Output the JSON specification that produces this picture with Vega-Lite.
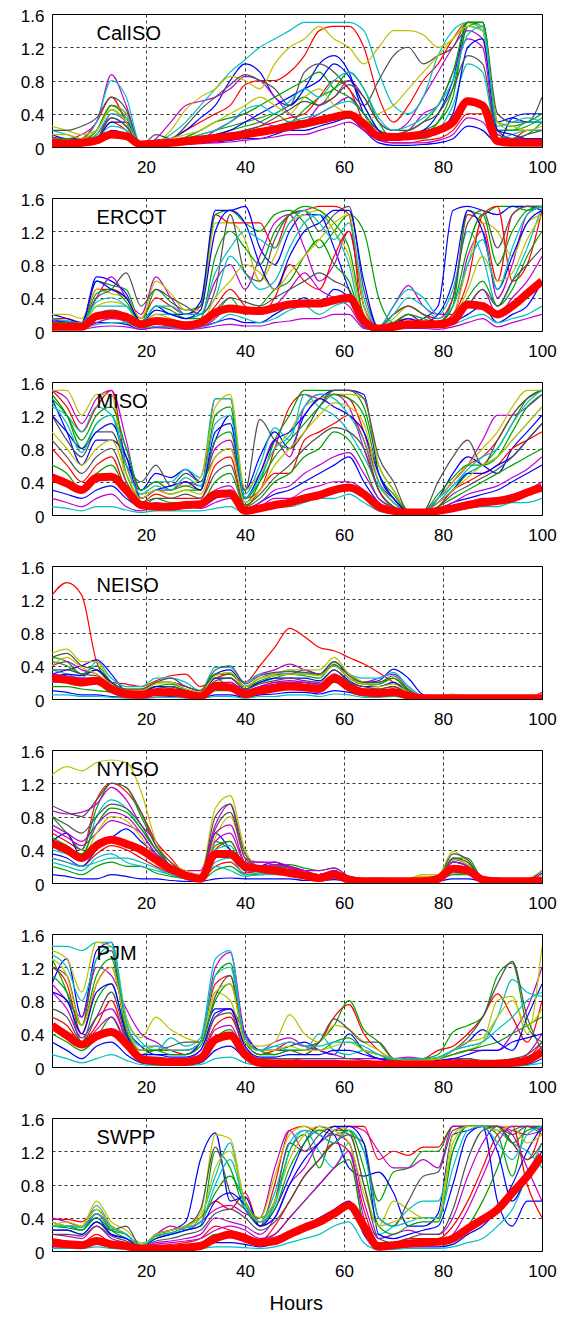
{
"$schema":"https://vega.github.io/schema/vega-lite/v6.json",
"background":"white",
"padding":{"left":19,"top":6,"right":5,"bottom":5},
"bounds":"flush",
"spacing":51,
"title":{"text":"Hours","orient":"bottom","anchor":"middle","fontSize":20,"fontWeight":"normal","color":"black","font":"Liberation Sans","offset":14,"dx":8},
"data":{"values":[
{"p":"CalISO","h":1,"a":0.1,"b":0.05,"c":0.15,"d":0.12,"e":0.2,"f":0.25,"g":0.2,"h2":0.05,"i":0.08,"j":0.03,"k":0.1,"l":0.05,"n":0.1,"o":0.05,"q":0.15,"r":0.08,"t":0.02,"u":0.1,"m":0.05},
{"p":"CalISO","h":4,"a":0.08,"b":0.05,"c":0.1,"d":0.1,"e":0.15,"f":0.2,"g":0.2,"h2":0.03,"i":0.05,"j":0.02,"k":0.08,"l":0.05,"n":0.1,"o":0.05,"q":0.15,"r":0.05,"t":0.02,"u":0.08,"m":0.04},
{"p":"CalISO","h":7,"a":0.1,"b":0.05,"c":0.1,"d":0.15,"e":0.1,"f":0.15,"g":0.25,"h2":0.05,"i":0.05,"j":0.03,"k":0.05,"l":0.05,"n":0.08,"o":0.05,"q":0.1,"r":0.05,"t":0.02,"u":0.06,"m":0.05},
{"p":"CalISO","h":10,"a":0.3,"b":0.2,"c":0.2,"d":0.3,"e":0.3,"f":0.2,"g":0.35,"h2":0.1,"i":0.15,"j":0.05,"k":0.1,"l":0.1,"n":0.2,"o":0.1,"q":0.2,"r":0.1,"t":0.05,"u":0.15,"m":0.08},
{"p":"CalISO","h":13,"a":0.6,"b":0.45,"c":0.5,"d":0.87,"e":0.8,"f":0.5,"g":0.6,"h2":0.3,"i":0.35,"j":0.2,"k":0.4,"l":0.25,"n":0.5,"o":0.3,"q":0.45,"r":0.35,"t":0.15,"u":0.4,"m":0.15},
{"p":"CalISO","h":16,"a":0.3,"b":0.3,"c":0.4,"d":0.5,"e":0.6,"f":0.4,"g":0.45,"h2":0.2,"i":0.25,"j":0.15,"k":0.3,"l":0.2,"n":0.35,"o":0.3,"q":0.3,"r":0.25,"t":0.1,"u":0.35,"m":0.13},
{"p":"CalISO","h":19,"a":0.02,"b":0.01,"c":0.02,"d":0.02,"e":0.02,"f":0.02,"g":0.02,"h2":0.01,"i":0.01,"j":0.01,"k":0.01,"l":0.01,"n":0.02,"o":0.02,"q":0.02,"r":0.01,"t":0.01,"u":0.02,"m":0.03},
{"p":"CalISO","h":22,"a":0.05,"b":0.03,"c":0.08,"d":0.1,"e":0.05,"f":0.05,"g":0.15,"h2":0.02,"i":0.03,"j":0.01,"k":0.03,"l":0.02,"n":0.05,"o":0.05,"q":0.05,"r":0.03,"t":0.01,"u":0.03,"m":0.04},
{"p":"CalISO","h":25,"a":0.1,"b":0.05,"c":0.1,"d":0.3,"e":0.15,"f":0.2,"g":0.1,"h2":0.03,"i":0.05,"j":0.02,"k":0.05,"l":0.05,"n":0.08,"o":0.05,"q":0.1,"r":0.05,"t":0.02,"u":0.05,"m":0.05},
{"p":"CalISO","h":28,"a":0.2,"b":0.08,"c":0.2,"d":0.5,"e":0.3,"f":0.45,"g":0.25,"h2":0.05,"i":0.1,"j":0.03,"k":0.1,"l":0.05,"n":0.12,"o":0.08,"q":0.15,"r":0.05,"t":0.03,"u":0.08,"m":0.07},
{"p":"CalISO","h":31,"a":0.3,"b":0.1,"c":0.35,"d":0.55,"e":0.5,"f":0.6,"g":0.45,"h2":0.08,"i":0.15,"j":0.05,"k":0.1,"l":0.08,"n":0.2,"o":0.1,"q":0.2,"r":0.1,"t":0.04,"u":0.15,"m":0.09},
{"p":"CalISO","h":34,"a":0.4,"b":0.15,"c":0.5,"d":0.6,"e":0.7,"f":0.7,"g":0.6,"h2":0.1,"i":0.2,"j":0.06,"k":0.2,"l":0.1,"n":0.3,"o":0.15,"q":0.3,"r":0.12,"t":0.05,"u":0.2,"m":0.11},
{"p":"CalISO","h":37,"a":0.5,"b":0.2,"c":0.8,"d":0.7,"e":0.9,"f":0.85,"g":0.75,"h2":0.15,"i":0.25,"j":0.08,"k":0.3,"l":0.15,"n":0.35,"o":0.2,"q":0.4,"r":0.15,"t":0.06,"u":0.3,"m":0.13},
{"p":"CalISO","h":40,"a":0.75,"b":0.25,"c":1.0,"d":0.85,"e":1.05,"f":0.8,"g":0.87,"h2":0.2,"i":0.3,"j":0.1,"k":0.4,"l":0.2,"n":0.4,"o":0.3,"q":0.5,"r":0.2,"t":0.08,"u":0.45,"m":0.15},
{"p":"CalISO","h":43,"a":0.8,"b":0.3,"c":0.9,"d":0.8,"e":1.2,"f":0.7,"g":0.8,"h2":0.25,"i":0.35,"j":0.1,"k":0.3,"l":0.2,"n":0.5,"o":0.4,"q":0.6,"r":0.25,"t":0.1,"u":0.5,"m":0.18},
{"p":"CalISO","h":46,"a":0.8,"b":0.4,"c":0.6,"d":0.6,"e":1.3,"f":1.0,"g":0.7,"h2":0.3,"i":0.4,"j":0.15,"k":0.25,"l":0.25,"n":0.6,"o":0.5,"q":0.5,"r":0.35,"t":0.12,"u":0.4,"m":0.21},
{"p":"CalISO","h":49,"a":0.9,"b":0.5,"c":0.5,"d":0.4,"e":1.4,"f":1.2,"g":0.5,"h2":0.35,"i":0.3,"j":0.2,"k":0.2,"l":0.3,"n":0.7,"o":0.6,"q":0.4,"r":0.45,"t":0.15,"u":0.55,"m":0.25},
{"p":"CalISO","h":52,"a":1.1,"b":0.6,"c":0.7,"d":0.3,"e":1.5,"f":1.3,"g":0.9,"h2":0.4,"i":0.45,"j":0.2,"k":0.3,"l":0.35,"n":0.8,"o":0.7,"q":0.6,"r":0.55,"t":0.15,"u":0.7,"m":0.28},
{"p":"CalISO","h":55,"a":1.4,"b":0.5,"c":1.0,"d":0.5,"e":1.5,"f":1.45,"g":1.0,"h2":0.6,"i":0.6,"j":0.25,"k":0.4,"l":0.4,"n":0.9,"o":0.8,"q":0.7,"r":0.5,"t":0.2,"u":0.6,"m":0.32},
{"p":"CalISO","h":58,"a":1.45,"b":0.7,"c":1.1,"d":0.6,"e":1.5,"f":1.3,"g":0.9,"h2":0.8,"i":0.7,"j":0.3,"k":0.5,"l":0.5,"n":0.7,"o":1.0,"q":0.5,"r":0.6,"t":0.25,"u":0.8,"m":0.36},
{"p":"CalISO","h":61,"a":1.45,"b":0.8,"c":0.9,"d":0.8,"e":1.5,"f":1.2,"g":0.7,"h2":0.7,"i":0.9,"j":0.35,"k":0.6,"l":0.55,"n":0.6,"o":0.85,"q":0.4,"r":0.75,"t":0.3,"u":0.9,"m":0.39},
{"p":"CalISO","h":64,"a":1.2,"b":0.5,"c":0.4,"d":0.6,"e":1.4,"f":1.0,"g":0.5,"h2":0.3,"i":0.7,"j":0.2,"k":0.4,"l":0.4,"n":0.4,"o":0.5,"q":0.3,"r":0.6,"t":0.2,"u":0.7,"m":0.28},
{"p":"CalISO","h":67,"a":0.6,"b":0.2,"c":0.2,"d":0.3,"e":0.9,"f":1.2,"g":0.8,"h2":0.1,"i":0.3,"j":0.05,"k":0.2,"l":0.15,"n":0.2,"o":0.2,"q":0.4,"r":0.3,"t":0.08,"u":0.35,"m":0.13},
{"p":"CalISO","h":70,"a":0.3,"b":0.1,"c":0.1,"d":0.2,"e":0.5,"f":1.4,"g":1.1,"h2":0.05,"i":0.1,"j":0.02,"k":0.15,"l":0.1,"n":0.15,"o":0.1,"q":0.5,"r":0.2,"t":0.05,"u":0.2,"m":0.12},
{"p":"CalISO","h":73,"a":0.5,"b":0.15,"c":0.15,"d":0.3,"e":0.4,"f":1.4,"g":1.2,"h2":0.05,"i":0.1,"j":0.02,"k":0.2,"l":0.1,"n":0.2,"o":0.1,"q":0.7,"r":0.2,"t":0.05,"u":0.25,"m":0.13},
{"p":"CalISO","h":76,"a":0.8,"b":0.2,"c":0.2,"d":0.6,"e":0.6,"f":1.35,"g":1.0,"h2":0.08,"i":0.15,"j":0.03,"k":0.4,"l":0.1,"n":0.3,"o":0.15,"q":0.9,"r":0.3,"t":0.05,"u":0.35,"m":0.15},
{"p":"CalISO","h":79,"a":1.0,"b":0.3,"c":0.4,"d":0.9,"e":1.1,"f":1.2,"g":1.1,"h2":0.1,"i":0.3,"j":0.05,"k":0.5,"l":0.2,"n":0.5,"o":0.2,"q":1.1,"r":0.4,"t":0.08,"u":0.5,"m":0.2},
{"p":"CalISO","h":82,"a":1.3,"b":0.6,"c":0.8,"d":1.2,"e":1.4,"f":1.3,"g":1.2,"h2":0.2,"i":0.7,"j":0.1,"k":0.9,"l":0.5,"n":0.9,"o":0.4,"q":1.3,"r":0.7,"t":0.15,"u":0.8,"m":0.3},
{"p":"CalISO","h":85,"a":1.5,"b":1.45,"c":1.5,"d":1.4,"e":1.5,"f":1.5,"g":1.5,"h2":0.4,"i":1.45,"j":0.25,"k":1.3,"l":1.0,"n":1.5,"o":1.2,"q":1.45,"r":1.1,"t":0.35,"u":1.35,"m":0.55},
{"p":"CalISO","h":88,"a":1.5,"b":1.4,"c":1.45,"d":1.3,"e":1.4,"f":1.45,"g":1.5,"h2":0.4,"i":1.5,"j":0.2,"k":1.2,"l":0.9,"n":1.5,"o":1.3,"q":1.4,"r":1.0,"t":0.3,"u":1.45,"m":0.5},
{"p":"CalISO","h":91,"a":0.2,"b":0.15,"c":0.3,"d":0.2,"e":0.2,"f":0.3,"g":0.4,"h2":0.05,"i":0.2,"j":0.05,"k":0.1,"l":0.1,"n":0.3,"o":0.2,"q":0.3,"r":0.15,"t":0.05,"u":0.25,"m":0.07},
{"p":"CalISO","h":94,"a":0.1,"b":0.1,"c":0.35,"d":0.1,"e":0.2,"f":0.2,"g":0.3,"h2":0.05,"i":0.2,"j":0.35,"k":0.1,"l":0.15,"n":0.25,"o":0.15,"q":0.25,"r":0.1,"t":0.05,"u":0.3,"m":0.05},
{"p":"CalISO","h":97,"a":0.2,"b":0.15,"c":0.3,"d":0.1,"e":0.3,"f":0.2,"g":0.3,"h2":0.05,"i":0.25,"j":0.4,"k":0.05,"l":0.2,"n":0.3,"o":0.1,"q":0.2,"r":0.15,"t":0.05,"u":0.35,"m":0.05},
{"p":"CalISO","h":100,"a":0.2,"b":0.3,"c":0.3,"d":0.1,"e":0.3,"f":0.2,"g":0.6,"h2":0.05,"i":0.35,"j":0.4,"k":0.1,"l":0.2,"n":0.4,"o":0.1,"q":0.25,"r":0.2,"t":0.05,"u":0.3,"m":0.05},
{"p":"ERCOT","h":1,"a":0.15,"b":0.1,"c":0.2,"d":0.15,"e":0.1,"f":0.2,"g":0.1,"h2":0.05,"i":0.05,"j":0.02,"k":0.05,"l":0.03,"n":0.1,"o":0.12,"q":0.08,"r":0.05,"t":0.02,"u":0.15,"m":0.05},
{"p":"ERCOT","h":4,"a":0.15,"b":0.1,"c":0.15,"d":0.1,"e":0.1,"f":0.2,"g":0.1,"h2":0.05,"i":0.05,"j":0.02,"k":0.05,"l":0.03,"n":0.1,"o":0.12,"q":0.08,"r":0.05,"t":0.02,"u":0.12,"m":0.05},
{"p":"ERCOT","h":7,"a":0.1,"b":0.1,"c":0.1,"d":0.1,"e":0.05,"f":0.15,"g":0.1,"h2":0.05,"i":0.05,"j":0.02,"k":0.03,"l":0.03,"n":0.08,"o":0.1,"q":0.05,"r":0.05,"t":0.02,"u":0.1,"m":0.05},
{"p":"ERCOT","h":10,"a":0.5,"b":0.6,"c":0.65,"d":0.4,"e":0.3,"f":0.5,"g":0.4,"h2":0.2,"i":0.15,"j":0.1,"k":0.1,"l":0.08,"n":0.45,"o":0.6,"q":0.3,"r":0.2,"t":0.05,"u":0.35,"m":0.18},
{"p":"ERCOT","h":13,"a":0.5,"b":0.55,"c":0.6,"d":0.65,"e":0.3,"f":0.45,"g":0.5,"h2":0.2,"i":0.2,"j":0.1,"k":0.15,"l":0.1,"n":0.5,"o":0.5,"q":0.35,"r":0.25,"t":0.06,"u":0.4,"m":0.2},
{"p":"ERCOT","h":16,"a":0.4,"b":0.5,"c":0.45,"d":0.4,"e":0.3,"f":0.4,"g":0.7,"h2":0.15,"i":0.1,"j":0.08,"k":0.12,"l":0.1,"n":0.35,"o":0.4,"q":0.3,"r":0.2,"t":0.05,"u":0.3,"m":0.17},
{"p":"ERCOT","h":19,"a":0.15,"b":0.1,"c":0.1,"d":0.2,"e":0.1,"f":0.15,"g":0.3,"h2":0.05,"i":0.05,"j":0.02,"k":0.05,"l":0.03,"n":0.1,"o":0.1,"q":0.08,"r":0.05,"t":0.02,"u":0.1,"m":0.08},
{"p":"ERCOT","h":22,"a":0.4,"b":0.5,"c":0.3,"d":0.65,"e":0.2,"f":0.6,"g":0.5,"h2":0.1,"i":0.1,"j":0.05,"k":0.15,"l":0.05,"n":0.3,"o":0.25,"q":0.2,"r":0.15,"t":0.04,"u":0.3,"m":0.12},
{"p":"ERCOT","h":25,"a":0.3,"b":0.35,"c":0.2,"d":0.4,"e":0.2,"f":0.45,"g":0.4,"h2":0.1,"i":0.1,"j":0.05,"k":0.1,"l":0.05,"n":0.25,"o":0.2,"q":0.15,"r":0.1,"t":0.03,"u":0.3,"m":0.1},
{"p":"ERCOT","h":28,"a":0.2,"b":0.25,"c":0.2,"d":0.2,"e":0.15,"f":0.25,"g":0.3,"h2":0.05,"i":0.1,"j":0.03,"k":0.05,"l":0.05,"n":0.15,"o":0.15,"q":0.1,"r":0.08,"t":0.02,"u":0.2,"m":0.07},
{"p":"ERCOT","h":31,"a":0.3,"b":0.3,"c":0.35,"d":0.2,"e":0.2,"f":0.25,"g":0.2,"h2":0.1,"i":0.1,"j":0.05,"k":0.05,"l":0.05,"n":0.15,"o":0.25,"q":0.1,"r":0.1,"t":0.03,"u":0.2,"m":0.1},
{"p":"ERCOT","h":34,"a":1.4,"b":1.4,"c":1.45,"d":0.6,"e":0.4,"f":1.3,"g":0.5,"h2":0.3,"i":0.2,"j":0.1,"k":0.15,"l":0.1,"n":0.9,"o":1.2,"q":0.4,"r":0.25,"t":0.06,"u":0.7,"m":0.22},
{"p":"ERCOT","h":37,"a":1.3,"b":1.45,"c":1.45,"d":0.8,"e":0.9,"f":1.3,"g":1.4,"h2":0.5,"i":0.4,"j":0.15,"k":0.3,"l":0.2,"n":1.2,"o":1.45,"q":0.6,"r":0.4,"t":0.08,"u":1.0,"m":0.27},
{"p":"ERCOT","h":40,"a":1.3,"b":1.3,"c":1.5,"d":0.5,"e":0.7,"f":1.1,"g":0.7,"h2":0.3,"i":0.2,"j":0.1,"k":0.25,"l":0.15,"n":1.0,"o":1.3,"q":0.8,"r":0.35,"t":0.06,"u":1.2,"m":0.25},
{"p":"ERCOT","h":43,"a":1.3,"b":1.2,"c":1.0,"d":0.9,"e":0.5,"f":0.6,"g":0.6,"h2":0.2,"i":0.3,"j":0.1,"k":0.2,"l":0.1,"n":0.8,"o":0.8,"q":0.7,"r":0.3,"t":0.06,"u":1.1,"m":0.24},
{"p":"ERCOT","h":46,"a":1.0,"b":1.4,"c":0.8,"d":1.3,"e":0.6,"f":0.9,"g":1.1,"h2":0.4,"i":0.5,"j":0.2,"k":0.3,"l":0.15,"n":1.2,"o":0.5,"q":0.5,"r":0.4,"t":0.1,"u":1.0,"m":0.28},
{"p":"ERCOT","h":49,"a":1.4,"b":1.45,"c":1.2,"d":1.4,"e":1.0,"f":1.3,"g":1.4,"h2":0.8,"i":0.6,"j":0.3,"k":0.5,"l":0.25,"n":1.4,"o":0.9,"q":0.7,"r":0.5,"t":0.12,"u":1.3,"m":0.32},
{"p":"ERCOT","h":52,"a":1.45,"b":1.3,"c":1.4,"d":1.0,"e":1.3,"f":1.4,"g":1.45,"h2":0.6,"i":0.9,"j":0.4,"k":0.7,"l":0.3,"n":1.5,"o":1.2,"q":0.9,"r":0.6,"t":0.15,"u":1.45,"m":0.33},
{"p":"ERCOT","h":55,"a":1.5,"b":1.0,"c":1.4,"d":0.6,"e":1.4,"f":1.45,"g":1.2,"h2":0.5,"i":1.1,"j":0.3,"k":0.5,"l":0.2,"n":1.45,"o":1.3,"q":1.1,"r":0.7,"t":0.15,"u":1.3,"m":0.33},
{"p":"ERCOT","h":58,"a":1.5,"b":1.2,"c":1.0,"d":0.8,"e":1.2,"f":1.2,"g":1.4,"h2":0.9,"i":0.8,"j":0.5,"k":0.4,"l":0.3,"n":1.3,"o":1.45,"q":1.3,"r":0.6,"t":0.2,"u":1.1,"m":0.37},
{"p":"ERCOT","h":61,"a":1.4,"b":1.4,"c":0.5,"d":1.2,"e":0.8,"f":0.9,"g":1.5,"h2":1.2,"i":0.6,"j":0.4,"k":0.3,"l":0.35,"n":1.0,"o":1.45,"q":1.4,"r":0.5,"t":0.2,"u":1.3,"m":0.4},
{"p":"ERCOT","h":64,"a":0.1,"b":1.2,"c":0.1,"d":0.3,"e":0.1,"f":0.15,"g":0.5,"h2":0.3,"i":0.1,"j":0.05,"k":0.05,"l":0.03,"n":0.2,"o":0.6,"q":0.3,"r":0.1,"t":0.03,"u":0.4,"m":0.12},
{"p":"ERCOT","h":67,"a":0.05,"b":0.4,"c":0.05,"d":0.05,"e":0.05,"f":0.05,"g":0.05,"h2":0.02,"i":0.02,"j":0.01,"k":0.02,"l":0.01,"n":0.03,"o":0.03,"q":0.02,"r":0.02,"t":0.01,"u":0.03,"m":0.03},
{"p":"ERCOT","h":70,"a":0.2,"b":0.1,"c":0.1,"d":0.3,"e":0.3,"f":0.15,"g":0.2,"h2":0.1,"i":0.05,"j":0.05,"k":0.1,"l":0.05,"n":0.1,"o":0.08,"q":0.05,"r":0.05,"t":0.02,"u":0.2,"m":0.05},
{"p":"ERCOT","h":73,"a":0.3,"b":0.2,"c":0.1,"d":0.55,"e":0.5,"f":0.3,"g":0.3,"h2":0.15,"i":0.1,"j":0.05,"k":0.2,"l":0.1,"n":0.2,"o":0.15,"q":0.1,"r":0.1,"t":0.03,"u":0.4,"m":0.08},
{"p":"ERCOT","h":76,"a":0.2,"b":0.1,"c":0.15,"d":0.3,"e":0.4,"f":0.2,"g":0.2,"h2":0.1,"i":0.1,"j":0.05,"k":0.1,"l":0.05,"n":0.15,"o":0.1,"q":0.1,"r":0.08,"t":0.03,"u":0.3,"m":0.08},
{"p":"ERCOT","h":79,"a":0.15,"b":0.1,"c":0.3,"d":0.2,"e":0.2,"f":0.1,"g":0.1,"h2":0.1,"i":0.1,"j":0.05,"k":0.05,"l":0.05,"n":0.1,"o":0.2,"q":0.1,"r":0.05,"t":0.02,"u":0.15,"m":0.08},
{"p":"ERCOT","h":82,"a":0.4,"b":0.3,"c":1.45,"d":0.2,"e":0.5,"f":0.2,"g":0.4,"h2":0.2,"i":0.15,"j":0.1,"k":0.1,"l":0.08,"n":0.3,"o":0.6,"q":0.15,"r":0.1,"t":0.05,"u":0.3,"m":0.12},
{"p":"ERCOT","h":85,"a":1.4,"b":1.45,"c":1.5,"d":0.9,"e":1.2,"f":0.8,"g":1.3,"h2":0.6,"i":0.4,"j":0.2,"k":0.3,"l":0.15,"n":1.0,"o":1.45,"q":0.5,"r":0.3,"t":0.1,"u":0.8,"m":0.32},
{"p":"ERCOT","h":88,"a":1.3,"b":1.4,"c":1.45,"d":1.2,"e":0.9,"f":1.3,"g":1.45,"h2":1.4,"i":0.6,"j":0.3,"k":0.5,"l":0.2,"n":1.4,"o":1.2,"q":0.9,"r":0.5,"t":0.15,"u":1.1,"m":0.3},
{"p":"ERCOT","h":91,"a":0.6,"b":1.5,"c":1.4,"d":0.4,"e":0.3,"f":1.2,"g":1.0,"h2":1.5,"i":0.3,"j":0.1,"k":0.2,"l":0.1,"n":0.8,"o":0.5,"q":0.6,"r":0.3,"t":0.05,"u":0.5,"m":0.2},
{"p":"ERCOT","h":94,"a":1.4,"b":1.5,"c":1.5,"d":0.8,"e":0.6,"f":0.9,"g":1.4,"h2":0.6,"i":0.5,"j":0.2,"k":0.4,"l":0.15,"n":1.2,"o":0.9,"q":0.7,"r":0.6,"t":0.1,"u":1.0,"m":0.3},
{"p":"ERCOT","h":97,"a":1.5,"b":1.45,"c":1.5,"d":1.4,"e":1.0,"f":1.3,"g":1.5,"h2":0.8,"i":0.9,"j":0.3,"k":0.6,"l":0.2,"n":1.45,"o":1.3,"q":1.1,"r":0.8,"t":0.15,"u":1.4,"m":0.45},
{"p":"ERCOT","h":100,"a":1.5,"b":1.5,"c":1.45,"d":1.5,"e":1.5,"f":1.4,"g":1.5,"h2":1.45,"i":1.2,"j":0.6,"k":0.9,"l":0.3,"n":1.5,"o":1.45,"q":1.4,"r":1.0,"t":0.2,"u":1.5,"m":0.6},
{"p":"MISO","h":1,"a":1.5,"b":1.45,"c":1.4,"d":1.5,"e":1.3,"f":1.5,"g":1.2,"h2":0.8,"i":0.6,"j":0.3,"k":0.2,"l":0.1,"n":1.4,"o":1.2,"q":1.0,"r":0.9,"t":0.5,"u":1.35,"m":0.45},
{"p":"MISO","h":4,"a":1.3,"b":1.2,"c":1.0,"d":1.4,"e":1.2,"f":1.5,"g":0.9,"h2":0.6,"i":0.5,"j":0.25,"k":0.15,"l":0.08,"n":1.2,"o":1.0,"q":0.8,"r":0.7,"t":0.4,"u":1.1,"m":0.38},
{"p":"MISO","h":7,"a":1.0,"b":0.8,"c":0.6,"d":1.1,"e":1.0,"f":1.2,"g":0.7,"h2":0.4,"i":0.3,"j":0.2,"k":0.1,"l":0.05,"n":0.9,"o":0.8,"q":0.6,"r":0.5,"t":0.3,"u":0.75,"m":0.3},
{"p":"MISO","h":10,"a":1.3,"b":1.1,"c":0.9,"d":1.4,"e":1.3,"f":1.45,"g":1.0,"h2":0.6,"i":0.5,"j":0.3,"k":0.2,"l":0.1,"n":1.2,"o":1.0,"q":0.8,"r":0.7,"t":0.4,"u":1.1,"m":0.45},
{"p":"MISO","h":13,"a":1.5,"b":1.2,"c":0.9,"d":1.5,"e":1.2,"f":1.45,"g":1.0,"h2":0.7,"i":0.6,"j":0.35,"k":0.25,"l":0.1,"n":1.3,"o":1.1,"q":0.9,"r":0.8,"t":0.45,"u":1.2,"m":0.46},
{"p":"MISO","h":16,"a":0.6,"b":0.5,"c":0.7,"d":0.9,"e":0.8,"f":0.4,"g":0.6,"h2":0.3,"i":0.3,"j":0.2,"k":0.1,"l":0.06,"n":0.8,"o":0.7,"q":0.5,"r":0.4,"t":0.25,"u":0.6,"m":0.3},
{"p":"MISO","h":19,"a":0.3,"b":0.2,"c":0.3,"d":0.2,"e":0.3,"f":0.25,"g":0.4,"h2":0.15,"i":0.1,"j":0.1,"k":0.05,"l":0.03,"n":0.3,"o":0.2,"q":0.2,"r":0.15,"t":0.1,"u":0.25,"m":0.12},
{"p":"MISO","h":22,"a":0.4,"b":0.3,"c":0.5,"d":0.3,"e":0.4,"f":0.3,"g":0.6,"h2":0.25,"i":0.2,"j":0.1,"k":0.1,"l":0.05,"n":0.4,"o":0.3,"q":0.3,"r":0.2,"t":0.15,"u":0.35,"m":0.1},
{"p":"MISO","h":25,"a":0.3,"b":0.25,"c":0.45,"d":0.3,"e":0.4,"f":0.35,"g":0.35,"h2":0.2,"i":0.15,"j":0.1,"k":0.08,"l":0.05,"n":0.3,"o":0.35,"q":0.25,"r":0.2,"t":0.12,"u":0.3,"m":0.1},
{"p":"MISO","h":28,"a":0.4,"b":0.3,"c":0.55,"d":0.4,"e":0.55,"f":0.35,"g":0.5,"h2":0.2,"i":0.15,"j":0.1,"k":0.1,"l":0.05,"n":0.35,"o":0.4,"q":0.3,"r":0.25,"t":0.15,"u":0.45,"m":0.12},
{"p":"MISO","h":31,"a":0.3,"b":0.3,"c":0.4,"d":0.35,"e":0.45,"f":0.45,"g":0.4,"h2":0.2,"i":0.15,"j":0.1,"k":0.08,"l":0.05,"n":0.3,"o":0.3,"q":0.25,"r":0.2,"t":0.12,"u":0.35,"m":0.13},
{"p":"MISO","h":34,"a":1.4,"b":1.2,"c":0.9,"d":0.8,"e":1.4,"f":1.3,"g":0.7,"h2":0.6,"i":0.4,"j":0.2,"k":0.15,"l":0.08,"n":0.9,"o":1.0,"q":0.7,"r":0.5,"t":0.3,"u":1.1,"m":0.25},
{"p":"MISO","h":37,"a":1.4,"b":1.3,"c":1.2,"d":0.9,"e":1.4,"f":1.45,"g":0.8,"h2":0.7,"i":0.5,"j":0.3,"k":0.2,"l":0.1,"n":1.0,"o":1.1,"q":0.8,"r":0.6,"t":0.35,"u":1.2,"m":0.26},
{"p":"MISO","h":40,"a":0.2,"b":0.15,"c":0.3,"d":0.2,"e":0.25,"f":0.3,"g":0.3,"h2":0.1,"i":0.1,"j":0.05,"k":0.05,"l":0.02,"n":0.2,"o":0.2,"q":0.15,"r":0.12,"t":0.08,"u":0.2,"m":0.05},
{"p":"MISO","h":43,"a":0.3,"b":0.4,"c":0.7,"d":0.5,"e":0.6,"f":0.5,"g":1.15,"h2":0.3,"i":0.2,"j":0.15,"k":0.1,"l":0.05,"n":0.4,"o":0.5,"q":0.3,"r":0.25,"t":0.15,"u":0.45,"m":0.08},
{"p":"MISO","h":46,"a":0.8,"b":0.9,"c":1.0,"d":0.9,"e":1.05,"f":0.8,"g":0.9,"h2":0.5,"i":0.4,"j":0.25,"k":0.2,"l":0.1,"n":0.7,"o":0.9,"q":0.6,"r":0.45,"t":0.3,"u":0.8,"m":0.12},
{"p":"MISO","h":49,"a":1.3,"b":1.2,"c":0.8,"d":0.7,"e":0.9,"f":1.0,"g":0.8,"h2":0.5,"i":0.5,"j":0.3,"k":0.2,"l":0.1,"n":0.9,"o":1.0,"q":0.8,"r":0.6,"t":0.35,"u":0.95,"m":0.15},
{"p":"MISO","h":52,"a":1.45,"b":1.5,"c":1.2,"d":1.3,"e":1.45,"f":1.3,"g":1.0,"h2":0.9,"i":0.7,"j":0.4,"k":0.3,"l":0.15,"n":1.1,"o":1.2,"q":1.0,"r":0.8,"t":0.5,"u":1.3,"m":0.2},
{"p":"MISO","h":55,"a":1.4,"b":1.5,"c":1.4,"d":1.45,"e":1.3,"f":1.4,"g":1.3,"h2":1.0,"i":0.8,"j":0.5,"k":0.35,"l":0.2,"n":1.3,"o":1.4,"q":1.2,"r":0.95,"t":0.6,"u":1.45,"m":0.24},
{"p":"MISO","h":58,"a":1.45,"b":1.5,"c":1.5,"d":1.45,"e":1.2,"f":1.45,"g":1.5,"h2":1.1,"i":1.0,"j":0.6,"k":0.4,"l":0.2,"n":1.45,"o":1.3,"q":1.35,"r":1.05,"t":0.7,"u":1.4,"m":0.3},
{"p":"MISO","h":61,"a":1.4,"b":1.5,"c":1.5,"d":1.3,"e":1.0,"f":1.45,"g":1.5,"h2":1.2,"i":0.9,"j":0.7,"k":0.4,"l":0.25,"n":1.4,"o":1.2,"q":1.3,"r":1.0,"t":0.75,"u":1.2,"m":0.33},
{"p":"MISO","h":64,"a":1.0,"b":1.3,"c":1.45,"d":0.8,"e":0.7,"f":1.4,"g":1.4,"h2":0.9,"i":0.6,"j":0.4,"k":0.3,"l":0.15,"n":1.2,"o":1.0,"q":1.1,"r":0.8,"t":0.5,"u":0.9,"m":0.25},
{"p":"MISO","h":67,"a":0.4,"b":0.6,"c":0.5,"d":0.3,"e":0.35,"f":0.6,"g":0.7,"h2":0.3,"i":0.2,"j":0.15,"k":0.1,"l":0.05,"n":0.5,"o":0.5,"q":0.4,"r":0.3,"t":0.2,"u":0.4,"m":0.1},
{"p":"MISO","h":70,"a":0.2,"b":0.3,"c":0.2,"d":0.1,"e":0.15,"f":0.3,"g":0.4,"h2":0.1,"i":0.1,"j":0.05,"k":0.05,"l":0.02,"n":0.25,"o":0.2,"q":0.15,"r":0.1,"t":0.08,"u":0.15,"m":0.05},
{"p":"MISO","h":73,"a":0.05,"b":0.05,"c":0.05,"d":0.05,"e":0.05,"f":0.05,"g":0.05,"h2":0.03,"i":0.03,"j":0.02,"k":0.02,"l":0.01,"n":0.05,"o":0.05,"q":0.04,"r":0.03,"t":0.02,"u":0.04,"m":0.03},
{"p":"MISO","h":76,"a":0.05,"b":0.05,"c":0.05,"d":0.05,"e":0.05,"f":0.05,"g":0.05,"h2":0.03,"i":0.03,"j":0.02,"k":0.02,"l":0.01,"n":0.05,"o":0.05,"q":0.04,"r":0.03,"t":0.02,"u":0.04,"m":0.03},
{"p":"MISO","h":79,"a":0.2,"b":0.15,"c":0.2,"d":0.2,"e":0.15,"f":0.2,"g":0.4,"h2":0.1,"i":0.1,"j":0.05,"k":0.05,"l":0.03,"n":0.25,"o":0.15,"q":0.15,"r":0.1,"t":0.08,"u":0.2,"m":0.05},
{"p":"MISO","h":82,"a":0.4,"b":0.3,"c":0.5,"d":0.4,"e":0.35,"f":0.4,"g":0.7,"h2":0.3,"i":0.2,"j":0.15,"k":0.1,"l":0.05,"n":0.45,"o":0.3,"q":0.3,"r":0.25,"t":0.15,"u":0.35,"m":0.08},
{"p":"MISO","h":85,"a":0.6,"b":0.5,"c":0.7,"d":0.6,"e":0.5,"f":0.6,"g":0.9,"h2":0.4,"i":0.3,"j":0.2,"k":0.15,"l":0.08,"n":0.6,"o":0.5,"q":0.45,"r":0.35,"t":0.25,"u":0.55,"m":0.12},
{"p":"MISO","h":88,"a":0.7,"b":0.6,"c":0.6,"d":0.9,"e":0.6,"f":0.8,"g":0.6,"h2":0.5,"i":0.4,"j":0.25,"k":0.2,"l":0.1,"n":0.6,"o":0.5,"q":0.6,"r":0.45,"t":0.3,"u":0.7,"m":0.15},
{"p":"MISO","h":91,"a":0.9,"b":0.8,"c":0.5,"d":1.2,"e":0.7,"f":1.0,"g":0.9,"h2":0.6,"i":0.5,"j":0.3,"k":0.2,"l":0.1,"n":0.7,"o":0.6,"q":0.7,"r":0.55,"t":0.35,"u":0.8,"m":0.17},
{"p":"MISO","h":94,"a":1.2,"b":1.1,"c":0.8,"d":1.2,"e":0.9,"f":1.3,"g":1.2,"h2":0.8,"i":0.6,"j":0.4,"k":0.25,"l":0.15,"n":1.0,"o":0.7,"q":0.9,"r":0.7,"t":0.45,"u":1.1,"m":0.2},
{"p":"MISO","h":97,"a":1.4,"b":1.4,"c":1.0,"d":1.3,"e":1.1,"f":1.5,"g":1.4,"h2":0.9,"i":0.7,"j":0.5,"k":0.3,"l":0.15,"n":1.3,"o":0.9,"q":1.1,"r":0.9,"t":0.55,"u":1.35,"m":0.27},
{"p":"MISO","h":100,"a":1.5,"b":1.5,"c":1.2,"d":1.45,"e":1.3,"f":1.5,"g":1.5,"h2":1.0,"i":0.8,"j":0.6,"k":0.4,"l":0.2,"n":1.45,"o":1.1,"q":1.3,"r":1.1,"t":0.7,"u":1.5,"m":0.33},
{"p":"NEISO","h":1,"a":1.25,"b":0.5,"c":0.3,"d":0.4,"e":0.35,"f":0.55,"g":0.5,"h2":0.2,"i":0.15,"j":0.1,"k":0.3,"l":0.05,"n":0.45,"o":0.25,"q":0.4,"r":0.35,"t":0.3,"u":0.2,"m":0.25},
{"p":"NEISO","h":4,"a":1.4,"b":0.45,"c":0.35,"d":0.45,"e":0.3,"f":0.6,"g":0.55,"h2":0.25,"i":0.15,"j":0.08,"k":0.25,"l":0.05,"n":0.4,"o":0.3,"q":0.5,"r":0.35,"t":0.28,"u":0.2,"m":0.23},
{"p":"NEISO","h":7,"a":1.25,"b":0.3,"c":0.4,"d":0.35,"e":0.25,"f":0.45,"g":0.4,"h2":0.2,"i":0.12,"j":0.05,"k":0.22,"l":0.03,"n":0.3,"o":0.28,"q":0.38,"r":0.3,"t":0.25,"u":0.18,"m":0.2},
{"p":"NEISO","h":10,"a":0.45,"b":0.4,"c":0.47,"d":0.3,"e":0.45,"f":0.45,"g":0.35,"h2":0.25,"i":0.1,"j":0.05,"k":0.2,"l":0.03,"n":0.35,"o":0.35,"q":0.3,"r":0.28,"t":0.25,"u":0.2,"m":0.22},
{"p":"NEISO","h":13,"a":0.2,"b":0.2,"c":0.3,"d":0.15,"e":0.25,"f":0.2,"g":0.2,"h2":0.15,"i":0.08,"j":0.03,"k":0.1,"l":0.02,"n":0.2,"o":0.2,"q":0.18,"r":0.15,"t":0.12,"u":0.1,"m":0.12},
{"p":"NEISO","h":16,"a":0.18,"b":0.1,"c":0.1,"d":0.1,"e":0.15,"f":0.12,"g":0.12,"h2":0.08,"i":0.04,"j":0.02,"k":0.05,"l":0.01,"n":0.1,"o":0.08,"q":0.1,"r":0.08,"t":0.06,"u":0.05,"m":0.06},
{"p":"NEISO","h":19,"a":0.15,"b":0.1,"c":0.1,"d":0.1,"e":0.15,"f":0.12,"g":0.12,"h2":0.05,"i":0.03,"j":0.01,"k":0.05,"l":0.01,"n":0.08,"o":0.08,"q":0.1,"r":0.07,"t":0.05,"u":0.04,"m":0.05},
{"p":"NEISO","h":22,"a":0.22,"b":0.15,"c":0.2,"d":0.2,"e":0.25,"f":0.2,"g":0.2,"h2":0.1,"i":0.06,"j":0.02,"k":0.1,"l":0.02,"n":0.15,"o":0.15,"q":0.18,"r":0.12,"t":0.1,"u":0.08,"m":0.08},
{"p":"NEISO","h":25,"a":0.28,"b":0.15,"c":0.2,"d":0.2,"e":0.25,"f":0.2,"g":0.25,"h2":0.12,"i":0.08,"j":0.03,"k":0.12,"l":0.02,"n":0.18,"o":0.15,"q":0.2,"r":0.15,"t":0.12,"u":0.1,"m":0.08},
{"p":"NEISO","h":28,"a":0.3,"b":0.1,"c":0.15,"d":0.15,"e":0.2,"f":0.12,"g":0.15,"h2":0.08,"i":0.05,"j":0.02,"k":0.1,"l":0.01,"n":0.12,"o":0.1,"q":0.12,"r":0.1,"t":0.08,"u":0.06,"m":0.06},
{"p":"NEISO","h":31,"a":0.15,"b":0.05,"c":0.1,"d":0.1,"e":0.1,"f":0.08,"g":0.1,"h2":0.05,"i":0.03,"j":0.01,"k":0.05,"l":0.01,"n":0.08,"o":0.06,"q":0.08,"r":0.06,"t":0.05,"u":0.04,"m":0.03},
{"p":"NEISO","h":34,"a":0.25,"b":0.25,"c":0.3,"d":0.3,"e":0.38,"f":0.25,"g":0.35,"h2":0.2,"i":0.1,"j":0.05,"k":0.15,"l":0.03,"n":0.3,"o":0.25,"q":0.28,"r":0.22,"t":0.18,"u":0.12,"m":0.15},
{"p":"NEISO","h":37,"a":0.3,"b":0.15,"c":0.35,"d":0.3,"e":0.38,"f":0.25,"g":0.4,"h2":0.2,"i":0.1,"j":0.05,"k":0.15,"l":0.03,"n":0.3,"o":0.25,"q":0.32,"r":0.25,"t":0.2,"u":0.15,"m":0.14},
{"p":"NEISO","h":40,"a":0.2,"b":0.15,"c":0.15,"d":0.2,"e":0.2,"f":0.15,"g":0.18,"h2":0.1,"i":0.05,"j":0.02,"k":0.08,"l":0.01,"n":0.15,"o":0.12,"q":0.15,"r":0.12,"t":0.1,"u":0.07,"m":0.06},
{"p":"NEISO","h":43,"a":0.4,"b":0.2,"c":0.25,"d":0.3,"e":0.3,"f":0.25,"g":0.28,"h2":0.15,"i":0.1,"j":0.05,"k":0.15,"l":0.03,"n":0.22,"o":0.2,"q":0.25,"r":0.18,"t":0.15,"u":0.1,"m":0.1},
{"p":"NEISO","h":46,"a":0.62,"b":0.25,"c":0.3,"d":0.35,"e":0.3,"f":0.3,"g":0.32,"h2":0.2,"i":0.12,"j":0.06,"k":0.2,"l":0.03,"n":0.28,"o":0.25,"q":0.28,"r":0.22,"t":0.18,"u":0.12,"m":0.13},
{"p":"NEISO","h":49,"a":0.85,"b":0.3,"c":0.3,"d":0.42,"e":0.35,"f":0.35,"g":0.33,"h2":0.2,"i":0.12,"j":0.08,"k":0.22,"l":0.05,"n":0.3,"o":0.25,"q":0.3,"r":0.25,"t":0.2,"u":0.15,"m":0.15},
{"p":"NEISO","h":52,"a":0.75,"b":0.3,"c":0.35,"d":0.35,"e":0.3,"f":0.35,"g":0.32,"h2":0.2,"i":0.15,"j":0.08,"k":0.2,"l":0.05,"n":0.28,"o":0.25,"q":0.3,"r":0.22,"t":0.2,"u":0.15,"m":0.14},
{"p":"NEISO","h":55,"a":0.62,"b":0.3,"c":0.3,"d":0.3,"e":0.3,"f":0.35,"g":0.3,"h2":0.18,"i":0.12,"j":0.06,"k":0.18,"l":0.03,"n":0.25,"o":0.22,"q":0.28,"r":0.2,"t":0.16,"u":0.12,"m":0.12},
{"p":"NEISO","h":58,"a":0.58,"b":0.4,"c":0.4,"d":0.45,"e":0.45,"f":0.5,"g":0.45,"h2":0.3,"i":0.2,"j":0.1,"k":0.25,"l":0.06,"n":0.42,"o":0.35,"q":0.4,"r":0.35,"t":0.3,"u":0.22,"m":0.25},
{"p":"NEISO","h":61,"a":0.5,"b":0.25,"c":0.3,"d":0.3,"e":0.3,"f":0.3,"g":0.28,"h2":0.2,"i":0.15,"j":0.08,"k":0.15,"l":0.05,"n":0.25,"o":0.22,"q":0.25,"r":0.2,"t":0.18,"u":0.12,"m":0.14},
{"p":"NEISO","h":64,"a":0.42,"b":0.2,"c":0.2,"d":0.2,"e":0.25,"f":0.2,"g":0.2,"h2":0.12,"i":0.08,"j":0.04,"k":0.1,"l":0.02,"n":0.18,"o":0.15,"q":0.18,"r":0.15,"t":0.1,"u":0.07,"m":0.08},
{"p":"NEISO","h":67,"a":0.32,"b":0.2,"c":0.22,"d":0.25,"e":0.25,"f":0.15,"g":0.2,"h2":0.12,"i":0.08,"j":0.04,"k":0.1,"l":0.02,"n":0.18,"o":0.15,"q":0.15,"r":0.12,"t":0.1,"u":0.07,"m":0.07},
{"p":"NEISO","h":70,"a":0.2,"b":0.25,"c":0.36,"d":0.3,"e":0.32,"f":0.2,"g":0.28,"h2":0.15,"i":0.1,"j":0.05,"k":0.12,"l":0.03,"n":0.25,"o":0.2,"q":0.18,"r":0.15,"t":0.12,"u":0.1,"m":0.08},
{"p":"NEISO","h":73,"a":0.08,"b":0.1,"c":0.25,"d":0.15,"e":0.15,"f":0.1,"g":0.12,"h2":0.06,"i":0.04,"j":0.02,"k":0.05,"l":0.01,"n":0.1,"o":0.08,"q":0.08,"r":0.06,"t":0.05,"u":0.04,"m":0.04},
{"p":"NEISO","h":76,"a":0.02,"b":0.02,"c":0.05,"d":0.03,"e":0.03,"f":0.02,"g":0.02,"h2":0.01,"i":0.01,"j":0,"k":0.01,"l":0,"n":0.02,"o":0.02,"q":0.02,"r":0.01,"t":0.01,"u":0.01,"m":0.01},
{"p":"NEISO","h":79,"a":0.01,"b":0.01,"c":0.01,"d":0.01,"e":0.01,"f":0.03,"g":0.01,"h2":0,"i":0,"j":0,"k":0,"l":0,"n":0.01,"o":0,"q":0.02,"r":0,"t":0,"u":0,"m":0.01},
{"p":"NEISO","h":82,"a":0.01,"b":0.01,"c":0.01,"d":0.01,"e":0.01,"f":0.06,"g":0.01,"h2":0,"i":0,"j":0,"k":0,"l":0,"n":0.01,"o":0,"q":0.02,"r":0,"t":0,"u":0,"m":0.01},
{"p":"NEISO","h":85,"a":0.01,"b":0.01,"c":0.01,"d":0.01,"e":0.01,"f":0.01,"g":0.01,"h2":0,"i":0,"j":0,"k":0,"l":0,"n":0.01,"o":0,"q":0.01,"r":0,"t":0,"u":0,"m":0.01},
{"p":"NEISO","h":88,"a":0.01,"b":0.01,"c":0.01,"d":0.01,"e":0.01,"f":0.01,"g":0.01,"h2":0,"i":0,"j":0,"k":0,"l":0,"n":0.01,"o":0,"q":0.01,"r":0,"t":0,"u":0,"m":0.01},
{"p":"NEISO","h":91,"a":0.01,"b":0.01,"c":0.01,"d":0.01,"e":0.01,"f":0.01,"g":0.01,"h2":0,"i":0,"j":0,"k":0,"l":0,"n":0.01,"o":0,"q":0.01,"r":0,"t":0,"u":0,"m":0.01},
{"p":"NEISO","h":94,"a":0.01,"b":0.01,"c":0.01,"d":0.03,"e":0.01,"f":0.01,"g":0.01,"h2":0,"i":0,"j":0,"k":0,"l":0,"n":0.01,"o":0,"q":0.01,"r":0,"t":0,"u":0,"m":0.01},
{"p":"NEISO","h":97,"a":0.01,"b":0.01,"c":0.01,"d":0.01,"e":0.01,"f":0.01,"g":0.01,"h2":0,"i":0,"j":0,"k":0.01,"l":0,"n":0.01,"o":0,"q":0.01,"r":0,"t":0,"u":0,"m":0.01},
{"p":"NEISO","h":100,"a":0.08,"b":0.01,"c":0.02,"d":0.01,"e":0.01,"f":0.01,"g":0.01,"h2":0,"i":0,"j":0,"k":0.03,"l":0,"n":0.01,"o":0.01,"q":0.01,"r":0,"t":0,"u":0,"m":0.01},
{"p":"NYISO","h":1,"a":0.6,"b":0.8,"c":0.5,"d":0.87,"e":0.4,"f":1.3,"g":0.93,"h2":0.3,"i":0.2,"j":0.1,"k":0.65,"l":0.25,"n":0.55,"o":0.35,"q":0.45,"r":0.8,"t":0.7,"u":0.3,"m":0.48},
{"p":"NYISO","h":4,"a":0.5,"b":0.6,"c":0.6,"d":0.83,"e":0.35,"f":1.4,"g":0.85,"h2":0.25,"i":0.15,"j":0.08,"k":0.55,"l":0.2,"n":0.45,"o":0.3,"q":0.4,"r":0.7,"t":0.6,"u":0.25,"m":0.4},
{"p":"NYISO","h":7,"a":0.4,"b":0.4,"c":0.3,"d":0.85,"e":0.3,"f":1.35,"g":0.8,"h2":0.2,"i":0.1,"j":0.05,"k":0.45,"l":0.15,"n":0.35,"o":0.2,"q":0.3,"r":0.6,"t":0.5,"u":0.2,"m":0.3},
{"p":"NYISO","h":10,"a":1.0,"b":0.9,"c":0.5,"d":0.95,"e":0.8,"f":1.45,"g":1.0,"h2":0.35,"i":0.2,"j":0.05,"k":0.6,"l":0.3,"n":0.7,"o":0.4,"q":0.6,"r":0.8,"t":0.7,"u":0.25,"m":0.45},
{"p":"NYISO","h":13,"a":1.2,"b":1.2,"c":0.55,"d":1.15,"e":1.0,"f":1.48,"g":1.2,"h2":0.45,"i":0.25,"j":0.1,"k":0.75,"l":0.35,"n":0.9,"o":0.55,"q":0.8,"r":0.95,"t":0.85,"u":0.3,"m":0.52},
{"p":"NYISO","h":16,"a":1.1,"b":1.15,"c":0.65,"d":1.0,"e":0.9,"f":1.45,"g":1.15,"h2":0.4,"i":0.2,"j":0.08,"k":0.7,"l":0.25,"n":0.85,"o":0.5,"q":0.75,"r":0.9,"t":0.8,"u":0.3,"m":0.47},
{"p":"NYISO","h":19,"a":0.85,"b":0.8,"c":0.5,"d":0.7,"e":0.65,"f":1.1,"g":0.85,"h2":0.3,"i":0.2,"j":0.05,"k":0.6,"l":0.2,"n":0.65,"o":0.4,"q":0.55,"r":0.7,"t":0.6,"u":0.25,"m":0.4},
{"p":"NYISO","h":22,"a":0.5,"b":0.45,"c":0.35,"d":0.5,"e":0.4,"f":0.5,"g":0.45,"h2":0.2,"i":0.12,"j":0.05,"k":0.35,"l":0.15,"n":0.4,"o":0.25,"q":0.3,"r":0.4,"t":0.35,"u":0.18,"m":0.28},
{"p":"NYISO","h":25,"a":0.3,"b":0.2,"c":0.2,"d":0.2,"e":0.2,"f":0.25,"g":0.25,"h2":0.12,"i":0.08,"j":0.03,"k":0.18,"l":0.1,"n":0.2,"o":0.15,"q":0.15,"r":0.2,"t":0.2,"u":0.1,"m":0.17},
{"p":"NYISO","h":28,"a":0.12,"b":0.12,"c":0.1,"d":0.15,"e":0.1,"f":0.15,"g":0.12,"h2":0.08,"i":0.05,"j":0.02,"k":0.1,"l":0.05,"n":0.1,"o":0.08,"q":0.08,"r":0.1,"t":0.1,"u":0.05,"m":0.09},
{"p":"NYISO","h":31,"a":0.1,"b":0.08,"c":0.05,"d":0.15,"e":0.05,"f":0.1,"g":0.08,"h2":0.05,"i":0.03,"j":0.02,"k":0.08,"l":0.03,"n":0.06,"o":0.05,"q":0.05,"r":0.08,"t":0.08,"u":0.03,"m":0.05},
{"p":"NYISO","h":34,"a":0.4,"b":0.5,"c":0.6,"d":0.7,"e":0.4,"f":0.9,"g":0.8,"h2":0.2,"i":0.15,"j":0.05,"k":0.5,"l":0.2,"n":0.45,"o":0.3,"q":0.55,"r":0.65,"t":0.6,"u":0.25,"m":0.35},
{"p":"NYISO","h":37,"a":0.5,"b":0.4,"c":0.4,"d":0.95,"e":0.45,"f":1.05,"g":0.95,"h2":0.25,"i":0.2,"j":0.06,"k":0.6,"l":0.15,"n":0.5,"o":0.35,"q":0.8,"r":0.85,"t":0.7,"u":0.3,"m":0.35},
{"p":"NYISO","h":40,"a":0.2,"b":0.2,"c":0.15,"d":0.3,"e":0.15,"f":0.4,"g":0.35,"h2":0.12,"i":0.1,"j":0.05,"k":0.25,"l":0.08,"n":0.2,"o":0.15,"q":0.3,"r":0.3,"t":0.25,"u":0.1,"m":0.2},
{"p":"NYISO","h":43,"a":0.2,"b":0.18,"c":0.2,"d":0.25,"e":0.15,"f":0.2,"g":0.2,"h2":0.15,"i":0.1,"j":0.05,"k":0.25,"l":0.1,"n":0.2,"o":0.15,"q":0.2,"r":0.2,"t":0.2,"u":0.12,"m":0.17},
{"p":"NYISO","h":46,"a":0.22,"b":0.22,"c":0.25,"d":0.25,"e":0.15,"f":0.2,"g":0.2,"h2":0.2,"i":0.12,"j":0.05,"k":0.22,"l":0.1,"n":0.2,"o":0.18,"q":0.2,"r":0.2,"t":0.22,"u":0.12,"m":0.15},
{"p":"NYISO","h":49,"a":0.2,"b":0.22,"c":0.18,"d":0.2,"e":0.15,"f":0.15,"g":0.15,"h2":0.18,"i":0.1,"j":0.05,"k":0.2,"l":0.1,"n":0.18,"o":0.15,"q":0.15,"r":0.15,"t":0.18,"u":0.12,"m":0.12},
{"p":"NYISO","h":52,"a":0.15,"b":0.18,"c":0.15,"d":0.15,"e":0.1,"f":0.1,"g":0.12,"h2":0.12,"i":0.08,"j":0.03,"k":0.15,"l":0.08,"n":0.12,"o":0.1,"q":0.1,"r":0.12,"t":0.12,"u":0.08,"m":0.09},
{"p":"NYISO","h":55,"a":0.1,"b":0.15,"c":0.08,"d":0.15,"e":0.1,"f":0.08,"g":0.1,"h2":0.1,"i":0.06,"j":0.03,"k":0.1,"l":0.05,"n":0.1,"o":0.08,"q":0.08,"r":0.1,"t":0.1,"u":0.06,"m":0.06},
{"p":"NYISO","h":58,"a":0.15,"b":0.18,"c":0.15,"d":0.18,"e":0.12,"f":0.1,"g":0.12,"h2":0.12,"i":0.08,"j":0.04,"k":0.15,"l":0.08,"n":0.12,"o":0.1,"q":0.1,"r":0.12,"t":0.12,"u":0.08,"m":0.1},
{"p":"NYISO","h":61,"a":0.05,"b":0.08,"c":0.05,"d":0.08,"e":0.05,"f":0.05,"g":0.05,"h2":0.04,"i":0.03,"j":0.02,"k":0.05,"l":0.03,"n":0.04,"o":0.04,"q":0.04,"r":0.05,"t":0.05,"u":0.03,"m":0.04},
{"p":"NYISO","h":64,"a":0.03,"b":0.05,"c":0.02,"d":0.05,"e":0.03,"f":0.03,"g":0.03,"h2":0.02,"i":0.02,"j":0.01,"k":0.03,"l":0.02,"n":0.03,"o":0.02,"q":0.03,"r":0.03,"t":0.03,"u":0.02,"m":0.02},
{"p":"NYISO","h":67,"a":0.02,"b":0.06,"c":0.02,"d":0.04,"e":0.02,"f":0.03,"g":0.03,"h2":0.02,"i":0.02,"j":0.01,"k":0.03,"l":0.02,"n":0.03,"o":0.02,"q":0.03,"r":0.03,"t":0.03,"u":0.02,"m":0.02},
{"p":"NYISO","h":70,"a":0.02,"b":0.05,"c":0.02,"d":0.03,"e":0.02,"f":0.03,"g":0.03,"h2":0.02,"i":0.02,"j":0.01,"k":0.03,"l":0.02,"n":0.03,"o":0.02,"q":0.03,"r":0.03,"t":0.03,"u":0.02,"m":0.02},
{"p":"NYISO","h":73,"a":0.02,"b":0.03,"c":0.02,"d":0.03,"e":0.02,"f":0.05,"g":0.02,"h2":0.02,"i":0.02,"j":0.01,"k":0.03,"l":0.02,"n":0.02,"o":0.02,"q":0.05,"r":0.02,"t":0.02,"u":0.02,"m":0.02},
{"p":"NYISO","h":76,"a":0.03,"b":0.03,"c":0.02,"d":0.06,"e":0.02,"f":0.1,"g":0.03,"h2":0.02,"i":0.02,"j":0.01,"k":0.04,"l":0.02,"n":0.03,"o":0.02,"q":0.08,"r":0.03,"t":0.03,"u":0.02,"m":0.02},
{"p":"NYISO","h":79,"a":0.05,"b":0.06,"c":0.05,"d":0.08,"e":0.05,"f":0.1,"g":0.06,"h2":0.04,"i":0.03,"j":0.02,"k":0.05,"l":0.03,"n":0.05,"o":0.04,"q":0.08,"r":0.05,"t":0.05,"u":0.03,"m":0.05},
{"p":"NYISO","h":82,"a":0.25,"b":0.3,"c":0.25,"d":0.2,"e":0.2,"f":0.38,"g":0.35,"h2":0.15,"i":0.1,"j":0.05,"k":0.2,"l":0.12,"n":0.28,"o":0.2,"q":0.3,"r":0.3,"t":0.25,"u":0.15,"m":0.17},
{"p":"NYISO","h":85,"a":0.2,"b":0.3,"c":0.2,"d":0.15,"e":0.15,"f":0.25,"g":0.28,"h2":0.15,"i":0.1,"j":0.05,"k":0.18,"l":0.1,"n":0.22,"o":0.18,"q":0.22,"r":0.25,"t":0.2,"u":0.12,"m":0.15},
{"p":"NYISO","h":88,"a":0.05,"b":0.06,"c":0.05,"d":0.05,"e":0.05,"f":0.05,"g":0.05,"h2":0.04,"i":0.03,"j":0.02,"k":0.04,"l":0.03,"n":0.05,"o":0.04,"q":0.04,"r":0.05,"t":0.04,"u":0.03,"m":0.04},
{"p":"NYISO","h":91,"a":0.02,"b":0.05,"c":0.06,"d":0.02,"e":0.02,"f":0.03,"g":0.02,"h2":0.02,"i":0.02,"j":0.01,"k":0.02,"l":0.01,"n":0.02,"o":0.02,"q":0.02,"r":0.02,"t":0.02,"u":0.01,"m":0.02},
{"p":"NYISO","h":94,"a":0.02,"b":0.02,"c":0.02,"d":0.02,"e":0.02,"f":0.03,"g":0.02,"h2":0.02,"i":0.02,"j":0.01,"k":0.02,"l":0.01,"n":0.02,"o":0.02,"q":0.02,"r":0.02,"t":0.02,"u":0.01,"m":0.02},
{"p":"NYISO","h":97,"a":0.02,"b":0.02,"c":0.03,"d":0.02,"e":0.02,"f":0.05,"g":0.02,"h2":0.02,"i":0.02,"j":0.01,"k":0.02,"l":0.01,"n":0.02,"o":0.02,"q":0.03,"r":0.02,"t":0.02,"u":0.01,"m":0.02},
{"p":"NYISO","h":100,"a":0.03,"b":0.03,"c":0.15,"d":0.05,"e":0.05,"f":0.15,"g":0.03,"h2":0.02,"i":0.02,"j":0.01,"k":0.03,"l":0.02,"n":0.03,"o":0.12,"q":0.1,"r":0.03,"t":0.03,"u":0.02,"m":0.03},
{"p":"PJM","h":1,"a":1.2,"b":1.3,"c":1.0,"d":1.0,"e":1.45,"f":1.4,"g":1.2,"h2":0.6,"i":0.4,"j":0.3,"k":0.9,"l":0.15,"n":1.1,"o":0.9,"q":1.3,"r":0.7,"t":0.5,"u":1.35,"m":0.5},
{"p":"PJM","h":4,"a":1.0,"b":0.9,"c":1.3,"d":0.8,"e":1.45,"f":1.3,"g":1.1,"h2":0.5,"i":0.3,"j":0.2,"k":0.7,"l":0.1,"n":0.9,"o":0.8,"q":1.1,"r":0.6,"t":0.4,"u":1.2,"m":0.38},
{"p":"PJM","h":7,"a":0.4,"b":0.3,"c":0.6,"d":0.6,"e":1.4,"f":0.9,"g":0.5,"h2":0.3,"i":0.2,"j":0.1,"k":0.35,"l":0.05,"n":0.5,"o":0.4,"q":0.5,"r":0.3,"t":0.25,"u":0.8,"m":0.27},
{"p":"PJM","h":10,"a":1.0,"b":0.8,"c":1.4,"d":1.2,"e":1.5,"f":1.5,"g":1.3,"h2":0.5,"i":0.35,"j":0.25,"k":0.6,"l":0.1,"n":1.1,"o":0.9,"q":1.0,"r":0.6,"t":0.45,"u":1.3,"m":0.37},
{"p":"PJM","h":13,"a":1.2,"b":1.0,"c":1.5,"d":1.1,"e":1.5,"f":1.45,"g":1.4,"h2":0.8,"i":0.6,"j":0.3,"k":0.7,"l":0.15,"n":1.3,"o":1.0,"q":1.2,"r":0.9,"t":0.6,"u":1.45,"m":0.42},
{"p":"PJM","h":16,"a":0.5,"b":0.4,"c":0.5,"d":0.7,"e":0.6,"f":0.6,"g":0.4,"h2":0.3,"i":0.25,"j":0.15,"k":0.35,"l":0.08,"n":0.45,"o":0.4,"q":0.5,"r":0.35,"t":0.3,"u":0.55,"m":0.28},
{"p":"PJM","h":19,"a":0.2,"b":0.15,"c":0.25,"d":0.4,"e":0.3,"f":0.35,"g":0.2,"h2":0.1,"i":0.08,"j":0.05,"k":0.12,"l":0.03,"n":0.2,"o":0.15,"q":0.2,"r":0.12,"t":0.1,"u":0.25,"m":0.1},
{"p":"PJM","h":22,"a":0.25,"b":0.2,"c":0.15,"d":0.3,"e":0.2,"f":0.6,"g":0.2,"h2":0.08,"i":0.05,"j":0.03,"k":0.1,"l":0.02,"n":0.2,"o":0.15,"q":0.25,"r":0.12,"t":0.08,"u":0.25,"m":0.07},
{"p":"PJM","h":25,"a":0.2,"b":0.2,"c":0.15,"d":0.2,"e":0.35,"f":0.45,"g":0.25,"h2":0.08,"i":0.05,"j":0.03,"k":0.1,"l":0.02,"n":0.15,"o":0.12,"q":0.2,"r":0.1,"t":0.08,"u":0.2,"m":0.06},
{"p":"PJM","h":28,"a":0.15,"b":0.2,"c":0.15,"d":0.2,"e":0.25,"f":0.35,"g":0.3,"h2":0.08,"i":0.05,"j":0.03,"k":0.1,"l":0.02,"n":0.15,"o":0.12,"q":0.2,"r":0.1,"t":0.08,"u":0.2,"m":0.06},
{"p":"PJM","h":31,"a":0.3,"b":0.3,"c":0.3,"d":0.3,"e":0.35,"f":0.3,"g":0.3,"h2":0.15,"i":0.1,"j":0.05,"k":0.2,"l":0.03,"n":0.25,"o":0.2,"q":0.3,"r":0.15,"t":0.12,"u":0.3,"m":0.1},
{"p":"PJM","h":34,"a":1.0,"b":1.1,"c":0.7,"d":1.2,"e":1.3,"f":0.9,"g":0.85,"h2":0.5,"i":0.35,"j":0.2,"k":0.6,"l":0.1,"n":0.8,"o":0.65,"q":0.9,"r":0.6,"t":0.45,"u":1.1,"m":0.33},
{"p":"PJM","h":37,"a":1.1,"b":1.25,"c":0.7,"d":1.38,"e":1.4,"f":0.8,"g":1.1,"h2":0.6,"i":0.45,"j":0.25,"k":0.7,"l":0.12,"n":1.0,"o":0.7,"q":1.0,"r":0.65,"t":0.5,"u":1.2,"m":0.38},
{"p":"PJM","h":40,"a":0.3,"b":0.35,"c":0.4,"d":0.4,"e":0.3,"f":0.3,"g":0.3,"h2":0.2,"i":0.15,"j":0.1,"k":0.25,"l":0.05,"n":0.3,"o":0.25,"q":0.3,"r":0.2,"t":0.15,"u":0.35,"m":0.15},
{"p":"PJM","h":43,"a":0.15,"b":0.2,"c":0.2,"d":0.2,"e":0.2,"f":0.25,"g":0.2,"h2":0.08,"i":0.05,"j":0.03,"k":0.1,"l":0.02,"n":0.15,"o":0.12,"q":0.2,"r":0.1,"t":0.06,"u":0.2,"m":0.05},
{"p":"PJM","h":46,"a":0.2,"b":0.15,"c":0.2,"d":0.3,"e":0.25,"f":0.3,"g":0.2,"h2":0.08,"i":0.05,"j":0.03,"k":0.1,"l":0.02,"n":0.15,"o":0.12,"q":0.2,"r":0.1,"t":0.06,"u":0.25,"m":0.04},
{"p":"PJM","h":49,"a":0.3,"b":0.2,"c":0.25,"d":0.35,"e":0.2,"f":0.63,"g":0.2,"h2":0.08,"i":0.05,"j":0.03,"k":0.1,"l":0.02,"n":0.2,"o":0.15,"q":0.25,"r":0.1,"t":0.06,"u":0.3,"m":0.04},
{"p":"PJM","h":52,"a":0.25,"b":0.2,"c":0.3,"d":0.25,"e":0.2,"f":0.4,"g":0.15,"h2":0.06,"i":0.04,"j":0.02,"k":0.08,"l":0.01,"n":0.2,"o":0.15,"q":0.2,"r":0.1,"t":0.05,"u":0.25,"m":0.03},
{"p":"PJM","h":55,"a":0.3,"b":0.3,"c":0.2,"d":0.2,"e":0.4,"f":0.3,"g":0.3,"h2":0.06,"i":0.04,"j":0.02,"k":0.08,"l":0.01,"n":0.2,"o":0.15,"q":0.2,"r":0.1,"t":0.05,"u":0.25,"m":0.03},
{"p":"PJM","h":58,"a":0.6,"b":0.5,"c":0.15,"d":0.15,"e":0.2,"f":0.5,"g":0.58,"h2":0.06,"i":0.04,"j":0.02,"k":0.08,"l":0.01,"n":0.3,"o":0.2,"q":0.25,"r":0.1,"t":0.05,"u":0.3,"m":0.03},
{"p":"PJM","h":61,"a":0.75,"b":0.8,"c":0.4,"d":0.1,"e":0.15,"f":0.45,"g":0.45,"h2":0.06,"i":0.04,"j":0.02,"k":0.07,"l":0.01,"n":0.35,"o":0.2,"q":0.3,"r":0.1,"t":0.05,"u":0.3,"m":0.03},
{"p":"PJM","h":64,"a":0.4,"b":0.45,"c":0.2,"d":0.1,"e":0.2,"f":0.3,"g":0.3,"h2":0.06,"i":0.04,"j":0.02,"k":0.07,"l":0.01,"n":0.2,"o":0.15,"q":0.2,"r":0.08,"t":0.05,"u":0.25,"m":0.03},
{"p":"PJM","h":67,"a":0.2,"b":0.3,"c":0.1,"d":0.1,"e":0.15,"f":0.2,"g":0.3,"h2":0.05,"i":0.03,"j":0.02,"k":0.06,"l":0.01,"n":0.15,"o":0.1,"q":0.15,"r":0.06,"t":0.04,"u":0.15,"m":0.03},
{"p":"PJM","h":70,"a":0.1,"b":0.1,"c":0.08,"d":0.1,"e":0.1,"f":0.1,"g":0.1,"h2":0.05,"i":0.03,"j":0.02,"k":0.06,"l":0.01,"n":0.08,"o":0.06,"q":0.1,"r":0.05,"t":0.04,"u":0.1,"m":0.03},
{"p":"PJM","h":73,"a":0.08,"b":0.08,"c":0.08,"d":0.12,"e":0.1,"f":0.1,"g":0.08,"h2":0.05,"i":0.03,"j":0.02,"k":0.06,"l":0.01,"n":0.08,"o":0.06,"q":0.08,"r":0.05,"t":0.04,"u":0.1,"m":0.03},
{"p":"PJM","h":76,"a":0.1,"b":0.1,"c":0.08,"d":0.1,"e":0.1,"f":0.1,"g":0.08,"h2":0.05,"i":0.03,"j":0.02,"k":0.06,"l":0.01,"n":0.08,"o":0.06,"q":0.08,"r":0.05,"t":0.04,"u":0.1,"m":0.03},
{"p":"PJM","h":79,"a":0.2,"b":0.15,"c":0.1,"d":0.1,"e":0.1,"f":0.1,"g":0.1,"h2":0.05,"i":0.03,"j":0.02,"k":0.06,"l":0.01,"n":0.1,"o":0.08,"q":0.1,"r":0.05,"t":0.04,"u":0.12,"m":0.03},
{"p":"PJM","h":82,"a":0.25,"b":0.42,"c":0.2,"d":0.15,"e":0.2,"f":0.15,"g":0.2,"h2":0.08,"i":0.05,"j":0.03,"k":0.1,"l":0.02,"n":0.15,"o":0.1,"q":0.2,"r":0.08,"t":0.06,"u":0.2,"m":0.04},
{"p":"PJM","h":85,"a":0.4,"b":0.5,"c":0.3,"d":0.2,"e":0.25,"f":0.2,"g":0.35,"h2":0.08,"i":0.05,"j":0.03,"k":0.1,"l":0.02,"n":0.2,"o":0.15,"q":0.3,"r":0.1,"t":0.06,"u":0.25,"m":0.04},
{"p":"PJM","h":88,"a":0.6,"b":0.6,"c":0.45,"d":0.2,"e":0.3,"f":0.3,"g":0.6,"h2":0.05,"i":0.03,"j":0.02,"k":0.06,"l":0.01,"n":0.25,"o":0.2,"q":0.35,"r":0.08,"t":0.04,"u":0.3,"m":0.03},
{"p":"PJM","h":91,"a":0.88,"b":1.1,"c":0.3,"d":0.2,"e":0.6,"f":0.8,"g":1.0,"h2":0.05,"i":0.03,"j":0.02,"k":0.06,"l":0.01,"n":0.3,"o":0.2,"q":0.6,"r":0.08,"t":0.04,"u":0.45,"m":0.04},
{"p":"PJM","h":94,"a":0.6,"b":1.25,"c":0.2,"d":0.4,"e":1.05,"f":0.85,"g":1.27,"h2":0.05,"i":0.03,"j":0.02,"k":0.06,"l":0.01,"n":0.4,"o":0.3,"q":0.8,"r":0.1,"t":0.04,"u":0.6,"m":0.05},
{"p":"PJM","h":97,"a":0.3,"b":0.5,"c":0.6,"d":0.7,"e":0.9,"f":0.4,"g":0.6,"h2":0.1,"i":0.05,"j":0.03,"k":0.15,"l":0.02,"n":0.5,"o":0.35,"q":0.5,"r":0.15,"t":0.08,"u":0.8,"m":0.08},
{"p":"PJM","h":100,"a":0.8,"b":0.3,"c":1.0,"d":1.2,"e":0.85,"f":1.45,"g":0.2,"h2":0.3,"i":0.2,"j":0.1,"k":0.4,"l":0.05,"n":0.6,"o":0.4,"q":0.7,"r":0.3,"t":0.25,"u":0.9,"m":0.18},
{"p":"SWPP","h":1,"a":0.38,"b":0.3,"c":0.35,"d":0.4,"e":0.35,"f":0.3,"g":0.25,"h2":0.15,"i":0.1,"j":0.05,"k":0.2,"l":0.03,"n":0.3,"o":0.25,"q":0.35,"r":0.2,"t":0.12,"u":0.3,"m":0.1},
{"p":"SWPP","h":4,"a":0.38,"b":0.3,"c":0.3,"d":0.35,"e":0.3,"f":0.35,"g":0.25,"h2":0.12,"i":0.08,"j":0.05,"k":0.18,"l":0.03,"n":0.28,"o":0.25,"q":0.3,"r":0.2,"t":0.1,"u":0.3,"m":0.08},
{"p":"SWPP","h":7,"a":0.35,"b":0.25,"c":0.3,"d":0.3,"e":0.3,"f":0.3,"g":0.2,"h2":0.1,"i":0.08,"j":0.05,"k":0.15,"l":0.03,"n":0.25,"o":0.2,"q":0.3,"r":0.18,"t":0.1,"u":0.28,"m":0.07},
{"p":"SWPP","h":10,"a":0.5,"b":0.45,"c":0.4,"d":0.45,"e":0.55,"f":0.6,"g":0.35,"h2":0.2,"i":0.15,"j":0.1,"k":0.3,"l":0.05,"n":0.4,"o":0.35,"q":0.5,"r":0.3,"t":0.15,"u":0.45,"m":0.12},
{"p":"SWPP","h":13,"a":0.3,"b":0.25,"c":0.2,"d":0.3,"e":0.3,"f":0.35,"g":0.25,"h2":0.1,"i":0.08,"j":0.05,"k":0.15,"l":0.03,"n":0.25,"o":0.2,"q":0.3,"r":0.18,"t":0.1,"u":0.28,"m":0.08},
{"p":"SWPP","h":16,"a":0.2,"b":0.15,"c":0.15,"d":0.2,"e":0.2,"f":0.25,"g":0.3,"h2":0.08,"i":0.05,"j":0.03,"k":0.1,"l":0.02,"n":0.2,"o":0.15,"q":0.2,"r":0.12,"t":0.08,"u":0.2,"m":0.06},
{"p":"SWPP","h":19,"a":0.05,"b":0.05,"c":0.05,"d":0.05,"e":0.08,"f":0.1,"g":0.05,"h2":0.03,"i":0.02,"j":0.01,"k":0.03,"l":0.01,"n":0.05,"o":0.05,"q":0.05,"r":0.04,"t":0.03,"u":0.06,"m":0.03},
{"p":"SWPP","h":22,"a":0.2,"b":0.15,"c":0.2,"d":0.2,"e":0.18,"f":0.15,"g":0.2,"h2":0.05,"i":0.05,"j":0.03,"k":0.1,"l":0.02,"n":0.18,"o":0.15,"q":0.2,"r":0.12,"t":0.08,"u":0.18,"m":0.03},
{"p":"SWPP","h":25,"a":0.25,"b":0.2,"c":0.25,"d":0.3,"e":0.2,"f":0.25,"g":0.25,"h2":0.08,"i":0.05,"j":0.03,"k":0.12,"l":0.02,"n":0.22,"o":0.2,"q":0.25,"r":0.15,"t":0.1,"u":0.22,"m":0.03},
{"p":"SWPP","h":28,"a":0.3,"b":0.25,"c":0.35,"d":0.25,"e":0.25,"f":0.3,"g":0.3,"h2":0.1,"i":0.08,"j":0.05,"k":0.15,"l":0.03,"n":0.28,"o":0.25,"q":0.3,"r":0.2,"t":0.12,"u":0.28,"m":0.04},
{"p":"SWPP","h":31,"a":0.4,"b":0.3,"c":1.1,"d":0.35,"e":0.4,"f":0.45,"g":0.5,"h2":0.15,"i":0.1,"j":0.05,"k":0.2,"l":0.03,"n":0.35,"o":0.3,"q":0.4,"r":0.25,"t":0.15,"u":0.35,"m":0.06},
{"p":"SWPP","h":34,"a":0.6,"b":1.2,"c":1.42,"d":0.5,"e":0.9,"f":1.4,"g":1.25,"h2":0.3,"i":0.2,"j":0.1,"k":0.4,"l":0.05,"n":0.7,"o":0.6,"q":1.0,"r":0.45,"t":0.25,"u":0.8,"m":0.15},
{"p":"SWPP","h":37,"a":0.5,"b":1.0,"c":0.6,"d":0.55,"e":1.3,"f":1.35,"g":0.7,"h2":0.25,"i":0.2,"j":0.1,"k":0.35,"l":0.05,"n":0.9,"o":0.7,"q":1.2,"r":0.5,"t":0.3,"u":1.1,"m":0.2},
{"p":"SWPP","h":40,"a":0.7,"b":0.5,"c":0.65,"d":0.45,"e":0.5,"f":0.6,"g":0.5,"h2":0.2,"i":0.15,"j":0.08,"k":0.3,"l":0.04,"n":0.6,"o":0.55,"q":0.6,"r":0.4,"t":0.25,"u":0.55,"m":0.15},
{"p":"SWPP","h":43,"a":0.3,"b":0.4,"c":0.3,"d":0.4,"e":0.35,"f":0.4,"g":0.3,"h2":0.12,"i":0.1,"j":0.05,"k":0.2,"l":0.03,"n":0.35,"o":0.3,"q":0.35,"r":0.25,"t":0.15,"u":0.35,"m":0.1},
{"p":"SWPP","h":46,"a":0.8,"b":0.6,"c":0.5,"d":1.0,"e":0.7,"f":0.9,"g":0.6,"h2":0.3,"i":0.2,"j":0.1,"k":0.4,"l":0.05,"n":0.5,"o":0.4,"q":0.6,"r":0.35,"t":0.2,"u":0.55,"m":0.12},
{"p":"SWPP","h":49,"a":1.45,"b":1.2,"c":0.9,"d":1.45,"e":1.3,"f":1.4,"g":1.3,"h2":0.6,"i":0.4,"j":0.2,"k":0.8,"l":0.1,"n":1.0,"o":0.8,"q":1.1,"r":0.6,"t":0.4,"u":1.2,"m":0.2},
{"p":"SWPP","h":52,"a":1.5,"b":1.4,"c":1.3,"d":1.2,"e":1.45,"f":1.5,"g":1.2,"h2":0.9,"i":0.6,"j":0.3,"k":1.0,"l":0.15,"n":1.3,"o":1.1,"q":1.4,"r":0.9,"t":0.6,"u":1.45,"m":0.28},
{"p":"SWPP","h":55,"a":1.4,"b":1.0,"c":1.5,"d":1.3,"e":1.2,"f":1.45,"g":1.4,"h2":1.1,"i":0.8,"j":0.4,"k":1.3,"l":0.2,"n":1.45,"o":1.3,"q":1.5,"r":1.1,"t":0.8,"u":1.4,"m":0.35},
{"p":"SWPP","h":58,"a":1.3,"b":1.45,"c":1.4,"d":1.45,"e":1.0,"f":1.5,"g":1.5,"h2":1.3,"i":1.0,"j":0.5,"k":1.4,"l":0.3,"n":1.4,"o":1.5,"q":1.45,"r":1.3,"t":1.0,"u":1.3,"m":0.45},
{"p":"SWPP","h":61,"a":1.5,"b":1.45,"c":1.0,"d":1.5,"e":1.3,"f":1.45,"g":1.4,"h2":1.2,"i":1.1,"j":0.6,"k":1.3,"l":0.35,"n":1.45,"o":1.5,"q":1.3,"r":1.4,"t":1.2,"u":1.45,"m":0.55},
{"p":"SWPP","h":64,"a":1.5,"b":1.2,"c":0.9,"d":1.45,"e":0.3,"f":0.8,"g":1.3,"h2":0.5,"i":0.3,"j":0.2,"k":0.6,"l":0.1,"n":1.0,"o":1.3,"q":0.7,"r":0.8,"t":0.4,"u":1.2,"m":0.3},
{"p":"SWPP","h":67,"a":1.1,"b":0.6,"c":0.95,"d":1.2,"e":0.2,"f":0.3,"g":0.4,"h2":0.1,"i":0.05,"j":0.03,"k":0.15,"l":0.02,"n":0.3,"o":0.2,"q":0.3,"r":0.15,"t":0.08,"u":0.4,"m":0.05},
{"p":"SWPP","h":70,"a":1.2,"b":0.95,"c":0.7,"d":1.0,"e":0.3,"f":0.6,"g":0.3,"h2":0.1,"i":0.05,"j":0.03,"k":0.2,"l":0.02,"n":0.2,"o":0.15,"q":0.35,"r":0.1,"t":0.06,"u":0.3,"m":0.07},
{"p":"SWPP","h":73,"a":1.15,"b":1.0,"c":0.3,"d":1.0,"e":0.5,"f":0.5,"g":0.6,"h2":0.15,"i":0.1,"j":0.05,"k":0.25,"l":0.03,"n":0.3,"o":0.2,"q":0.4,"r":0.15,"t":0.08,"u":0.35,"m":0.09},
{"p":"SWPP","h":76,"a":1.25,"b":1.2,"c":0.3,"d":1.1,"e":0.6,"f":0.4,"g":0.9,"h2":0.15,"i":0.1,"j":0.05,"k":0.2,"l":0.03,"n":0.35,"o":0.25,"q":0.4,"r":0.2,"t":0.1,"u":0.4,"m":0.1},
{"p":"SWPP","h":79,"a":1.25,"b":1.2,"c":0.45,"d":1.0,"e":0.6,"f":0.4,"g":0.95,"h2":0.15,"i":0.1,"j":0.05,"k":0.2,"l":0.03,"n":0.35,"o":0.3,"q":0.4,"r":0.2,"t":0.1,"u":0.4,"m":0.11},
{"p":"SWPP","h":82,"a":1.5,"b":1.5,"c":1.4,"d":1.5,"e":1.2,"f":1.4,"g":1.45,"h2":0.3,"i":0.15,"j":0.08,"k":0.4,"l":0.05,"n":1.2,"o":0.8,"q":1.3,"r":0.5,"t":0.2,"u":1.0,"m":0.15},
{"p":"SWPP","h":85,"a":1.5,"b":1.5,"c":1.45,"d":1.5,"e":1.5,"f":1.5,"g":1.5,"h2":0.6,"i":0.3,"j":0.2,"k":0.9,"l":0.1,"n":1.5,"o":1.4,"q":1.5,"r":1.1,"t":0.5,"u":1.45,"m":0.27},
{"p":"SWPP","h":88,"a":1.5,"b":1.5,"c":1.5,"d":1.5,"e":1.5,"f":1.5,"g":1.5,"h2":1.0,"i":0.6,"j":0.3,"k":1.3,"l":0.15,"n":1.5,"o":1.5,"q":1.5,"r":1.45,"t":0.9,"u":1.5,"m":0.38},
{"p":"SWPP","h":91,"a":1.5,"b":1.4,"c":0.6,"d":1.5,"e":1.45,"f":1.5,"g":1.5,"h2":1.4,"i":1.0,"j":0.5,"k":1.5,"l":0.3,"n":1.5,"o":1.2,"q":1.45,"r":1.5,"t":1.3,"u":1.3,"m":0.5},
{"p":"SWPP","h":94,"a":1.3,"b":0.9,"c":0.3,"d":1.45,"e":1.3,"f":1.5,"g":1.4,"h2":1.5,"i":1.45,"j":0.8,"k":1.4,"l":0.5,"n":1.3,"o":0.6,"q":1.5,"r":1.3,"t":1.5,"u":1.1,"m":0.7},
{"p":"SWPP","h":97,"a":1.1,"b":1.5,"c":0.6,"d":1.4,"e":1.2,"f":1.5,"g":1.5,"h2":0.8,"i":1.5,"j":1.2,"k":1.0,"l":0.9,"n":1.45,"o":0.9,"q":1.3,"r":1.1,"t":1.5,"u":1.4,"m":0.9},
{"p":"SWPP","h":100,"a":1.5,"b":1.45,"c":0.6,"d":1.45,"e":1.0,"f":1.5,"g":1.5,"h2":0.4,"i":1.4,"j":1.5,"k":0.6,"l":1.3,"n":1.5,"o":1.2,"q":1.4,"r":1.3,"t":1.45,"u":1.5,"m":1.15}
]},
"facet":{"row":{"field":"p","type":"nominal","sort":["CalISO","ERCOT","MISO","NEISO","NYISO","PJM","SWPP"],"header":{"title":null,"labels":false}}},
"resolve":{"axis":{"x":"independent","y":"independent"}},
"spec":{
"width":490,"height":133,
"layer":[
{"transform":[{"fold":["a","b","c","d","e","f","g","h2","i","j","k","l","n","o","q","r","t","u"],"as":["s","v"]}],
"mark":{"type":"line","strokeWidth":1.2,"interpolate":"monotone","clip":true},
"encoding":{
"x":{"field":"h","type":"quantitative","scale":{"domain":[1,100],"nice":false,"zero":false},"axis":{"title":null,"values":[20,40,60,80,100],"labelPadding":12,"labelFlush":false}},
"y":{"field":"v","type":"quantitative","scale":{"domain":[0,1.6],"nice":false},"axis":{"title":null,"values":[0,0.4,0.8,1.2,1.6],"tickCount":5,"format":".1~f","labelPadding":8,"labelOffset":2,"labelOverlap":false,"labelFlush":false}},
"color":{"field":"s","type":"nominal","legend":null,"scale":{"domain":["a","b","c","d","e","f","g","h2","i","j","k","l","n","o","q","r","t","u"],"range":["#ff0000","#00a000","#0000ff","#c000d0","#00c0c0","#c0c000","#505050","#ff0000","#00a000","#0000ff","#c000d0","#00c0c0","#00a000","#0000ff","#c0c000","#505050","#c000d0","#00c0c0"]}}
}},
{"mark":{"type":"line","color":"#ff0000","strokeWidth":8,"interpolate":"monotone","clip":true},
"encoding":{
"x":{"field":"h","type":"quantitative","axis":{"title":null,"values":[20,40,60,80,100],"labelPadding":12,"labelFlush":false}},
"y":{"field":"m","type":"quantitative","axis":{"title":null,"values":[0,0.4,0.8,1.2,1.6],"tickCount":5,"format":".1~f","labelPadding":8,"labelOffset":2,"labelOverlap":false,"labelFlush":false}}}},
{"transform":[{"filter":"datum.h == 1"}],
"mark":{"type":"text","align":"left","baseline":"alphabetic","fontSize":20,"font":"Liberation Sans","color":"black"},
"encoding":{"x":{"datum":10},"y":{"datum":1.293},"text":{"field":"p"}}}
]},
"config":{
"font":"Liberation Sans",
"view":{"stroke":"black","strokeWidth":1},
"axis":{"grid":true,"gridColor":"black","gridDash":[3,3],"gridWidth":0.8,"gridOpacity":1,"domain":false,"ticks":false,"labelFontSize":17,"labelColor":"black","labelFont":"Liberation Sans"}
}
}
